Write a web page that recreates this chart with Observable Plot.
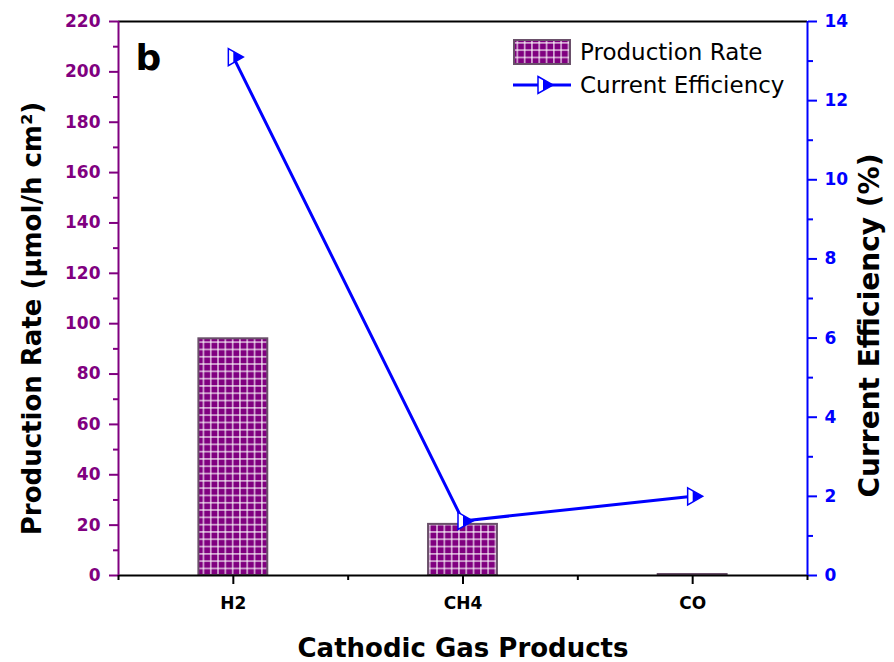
<!DOCTYPE html>
<html><head><meta charset="utf-8">
<script src="https://cdn.jsdelivr.net/npm/d3@7"></script>
<script src="https://cdn.jsdelivr.net/npm/@observablehq/plot@0.6"></script>
<style>
body{margin:0;background:#fff;font-family:"DejaVu Sans",sans-serif;}
#wrap{position:relative;width:894px;height:662px;}
#legend{position:absolute;left:0;top:0;pointer-events:none;}
</style></head><body><div id="wrap"></div>
<script>
// ---- data ----
const categories = ["H2", "CH4", "CO"];
const productionRate = [94.0, 20.3, 0.4];        // µmol/h cm²
const currentEfficiency = [13.1, 1.38, 2.0];     // %
const leftTicks = [0, 20, 40, 60, 80, 100, 120, 140, 160, 180, 200, 220];
const leftMinor = [10, 30, 50, 70, 90, 110, 130, 150, 170, 190, 210];
const rightTicks = [0, 2, 4, 6, 8, 10, 12, 14];
const rightMinor = [1, 3, 5, 7, 9, 11, 13];
const seriesNames = ["Production Rate", "Current Efficiency"];

const PURPLE = "#800080", BLUE = "#0000ff";
const yMax = 220, effMax = 14, k = yMax / effMax;
const FONT = "'DejaVu Sans', sans-serif";

const data = categories.map((c, i) => ({
  cat: c, pos: i + 1, rate: productionRate[i], eff: currentEfficiency[i], effY: currentEfficiency[i] * k
}));

const triOutline = {draw(ctx) { ctx.moveTo(-5, -8.5); ctx.lineTo(10, 0); ctx.lineTo(-5, 8.5); ctx.closePath(); }};
const triFill = {draw(ctx) { ctx.moveTo(0, -5.67); ctx.lineTo(10, 0); ctx.lineTo(0, 5.67); ctx.closePath(); }};

const chart = Plot.plot({
  width: 894, height: 662,
  marginLeft: 118, marginRight: 87, marginTop: 21, marginBottom: 87,
  style: {fontFamily: FONT, background: "white", overflow: "visible"},
  x: {type: "linear", domain: [0.5, 3.5]},
  y: {domain: [0, yMax]},
  marks: [
    Plot.rectY(data, {x1: d => d.pos - 0.15, x2: d => d.pos + 0.15, y: "rate",
      fill: "url(#gridPattern)", stroke: "#6a506a", strokeWidth: 2}),
    // left axis
    Plot.axisY({ticks: leftTicks, anchor: "left", color: PURPLE, tickSize: 9, strokeWidth: 2,
      tickPadding: 9, fontSize: 17, fontWeight: "bold", label: null}),
    Plot.axisY({ticks: leftMinor, anchor: "left", color: PURPLE, tickSize: 5, strokeWidth: 2,
      tickFormat: () => "", label: null}),
    // right axis
    Plot.axisY({ticks: rightTicks.map(v => v * k), anchor: "right", color: BLUE, tickSize: 9, strokeWidth: 2,
      tickPadding: 8, fontSize: 17, fontWeight: "bold", tickFormat: d => String(Math.round(d / k)), label: null}),
    Plot.axisY({ticks: rightMinor.map(v => v * k), anchor: "right", color: BLUE, tickSize: 5, strokeWidth: 2,
      tickFormat: () => "", label: null}),
    // bottom axis
    Plot.axisX({ticks: [1, 2, 3], anchor: "bottom", color: "black", tickSize: 9, strokeWidth: 2,
      tickPadding: 12, fontSize: 17, fontWeight: "bold", tickFormat: d => categories[d - 1], label: null}),
    Plot.axisX({ticks: [0.5, 1.5, 2.5, 3.5], anchor: "bottom", color: "black", tickSize: 5, strokeWidth: 2,
      tickFormat: () => "", label: null}),
    // frame lines
    Plot.ruleY([0], {stroke: "black", strokeWidth: 2}),
    Plot.ruleY([yMax], {stroke: "black", strokeWidth: 2}),
    Plot.ruleX([0.5], {stroke: PURPLE, strokeWidth: 2}),
    Plot.ruleX([3.5], {stroke: BLUE, strokeWidth: 2}),
    // efficiency line
    Plot.line(data, {x: "pos", y: "effY", stroke: BLUE, strokeWidth: 3}),
    Plot.dot(data, {x: "pos", y: "effY", symbol: triOutline, fill: "white", stroke: BLUE, strokeWidth: 1.5}),
    Plot.dot(data, {x: "pos", y: "effY", symbol: triFill, fill: BLUE}),
    // titles
    Plot.text(["Production Rate (µmol/h cm²)"], {frameAnchor: "left", rotate: -90, dx: -86, dy: 20,
      lineAnchor: "middle", textAnchor: "middle", fontSize: 26, fontWeight: "bold", fill: "black"}),
    Plot.text(["Current Efficiency (%)"], {frameAnchor: "right", rotate: -90, dx: 63, dy: 27,
      lineAnchor: "middle", textAnchor: "middle", fontSize: 28, fontWeight: "bold", fill: "black"}),
    Plot.text(["Cathodic Gas Products"], {frameAnchor: "bottom", dy: 73,
      lineAnchor: "middle", textAnchor: "middle", fontSize: 26, fontWeight: "bold", fill: "black"}),
    Plot.text(["b"], {frameAnchor: "top-left", dx: 17, dy: 23, lineAnchor: "top", textAnchor: "start",
      fontSize: 36, fontWeight: "bold", fill: "black"})
  ]
});

function addPattern(svgSel, id) {
  const defs = svgSel.insert("defs", ":first-child");
  const p = defs.append("pattern").attr("id", id).attr("patternUnits", "userSpaceOnUse")
    .attr("width", 7.3).attr("height", 7.3);
  p.append("rect").attr("width", 7.3).attr("height", 7.3).attr("fill", PURPLE);
  p.append("rect").attr("x", 5.8).attr("width", 1.1).attr("height", 7.3).attr("fill", "white");
  p.append("rect").attr("y", 5.8).attr("width", 7.3).attr("height", 1.1).attr("fill", "white");
}
addPattern(d3.select(chart), "gridPattern");

const wrap = document.getElementById("wrap");
wrap.appendChild(chart);

// legend
const lg = d3.select(wrap).append("svg").attr("id", "legend").attr("width", 894).attr("height", 120);
addPattern(lg, "gridPatternLegend");
lg.append("rect").attr("x", 514).attr("y", 40).attr("width", 56).attr("height", 24)
  .attr("fill", "url(#gridPatternLegend)").attr("stroke", "#6a506a").attr("stroke-width", 2);
lg.append("text").attr("x", 580).attr("y", 60).attr("font-family", FONT).attr("font-size", 23)
  .attr("fill", "black").text(seriesNames[0]);
lg.append("line").attr("x1", 513).attr("x2", 571).attr("y1", 85).attr("y2", 85)
  .attr("stroke", BLUE).attr("stroke-width", 3);
const mk = lg.append("g").attr("transform", "translate(543,85)");
mk.append("path").attr("d", d3.symbol(triOutline)()).attr("fill", "white").attr("stroke", BLUE).attr("stroke-width", 1.5);
mk.append("path").attr("d", d3.symbol(triFill)()).attr("fill", BLUE);
lg.append("text").attr("x", 580).attr("y", 93).attr("font-family", FONT).attr("font-size", 23)
  .attr("fill", "black").text(seriesNames[1]);
</script></body></html>
